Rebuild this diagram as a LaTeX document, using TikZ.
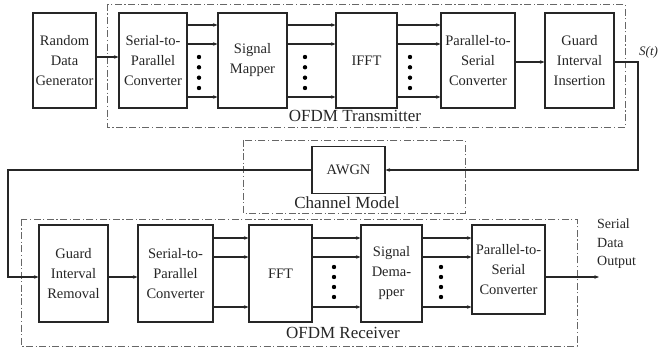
\documentclass[tikz,border=0pt]{standalone}
\usepackage{fontspec}
\setmainfont{Liberation Serif}
\usetikzlibrary{arrows.meta}
\definecolor{ink}{gray}{0.15}
\definecolor{dashc}{gray}{0.40}
\tikzset{
  blk/.style={draw=ink, line width=1.1pt, fill=white, inner sep=0pt, align=center,
    text=ink, font=\fontsize{14.5}{20}\selectfont},
  arr/.style={draw=ink, line width=1.1pt, -{Stealth[length=4.5pt,width=3.5pt]}},
  wire/.style={draw=ink, line width=1.1pt},
  grp/.style={draw=dashc, line width=0.9pt, dash pattern=on 7pt off 2.5pt on 1.2pt off 2.5pt},
  grplabel/.style={text=ink, font=\fontsize{17}{20}\selectfont, inner sep=0pt},
  dotc/.style={fill=black}
}
\begin{document}
\begin{tikzpicture}[x=1pt,y=-1pt]
\useasboundingbox (0,0) rectangle (659,352);
% group frames
\draw[grp] (107,4) rectangle (625,127);
\draw[grp] (243,140) rectangle (465,213);
\draw[grp] (21,219) rectangle (577,346);
\node[grplabel] (ltx) at (355,116) {OFDM Transmitter};
\node[grplabel] (lch) at (347,203) {Channel Model};
\node[grplabel] (lrx) at (343,333) {OFDM Receiver};
% transmitter blocks
\node[blk, minimum width=63pt, minimum height=95pt] (rdg) at (64.5,60.5) {Random\\Data\\Generator};
\node[blk, minimum width=68pt, minimum height=95pt] (s2p) at (153,60.5) {Serial-to-\\Parallel\\Converter};
\node[blk, minimum width=69pt, minimum height=95pt] (map) at (252.5,60.5) {Signal\\Mapper};
\node[blk, minimum width=61pt, minimum height=95pt] (ifft) at (366.5,60.5) {IFFT};
\node[blk, minimum width=74pt, minimum height=95pt] (p2s) at (478,60.5) {Parallel-to-\\Serial\\Converter};
\node[blk, minimum width=69pt, minimum height=95pt] (gii) at (579.5,60.5) {Guard\\Interval\\Insertion};
% channel
\node[blk, minimum width=73pt, minimum height=47pt] (awgn) at (348.5,170) {AWGN};
% receiver blocks
\node[blk, minimum width=69pt, minimum height=97pt] (gir) at (73.5,273.5) {Guard\\Interval\\Removal};
\node[blk, minimum width=75pt, minimum height=97pt] (s2pr) at (175.5,273.5) {Serial-to-\\Parallel\\Converter};
\node[blk, minimum width=63pt, minimum height=97pt] (fft) at (280.5,273.5) {FFT};
\node[blk, minimum width=61pt, minimum height=97pt] (dem) at (391.5,273.5) {Signal\\Dema-\\pper};
\node[blk, minimum width=73pt, minimum height=89pt] (p2sr) at (508.5,269.5) {Parallel-to-\\Serial\\Converter};
% helper coordinates
\coordinate (ta) at (0,25);
\coordinate (tb) at (0,44);
\coordinate (tc) at (0,97);
\coordinate (tm) at (0,57);
\coordinate (tg) at (0,62);
\coordinate (ra) at (0,238);
\coordinate (rb) at (0,257);
\coordinate (rc) at (0,307);
\coordinate (rm) at (0,277);
\coordinate (cr) at (638,170);
\coordinate (cl) at (8,276);
\coordinate (out) at (599,277);
% transmitter connections
\draw[arr] (rdg.east |- tm) -- (s2p.west |- tm);
\foreach \r in {ta,tb,tc}{
  \draw[arr] (s2p.east |- \r) -- (map.west |- \r);
  \draw[arr] (map.east |- \r) -- (ifft.west |- \r);
  \draw[arr] (ifft.east |- \r) -- (p2s.west |- \r);
}
\draw[arr] (p2s.east |- tg) -- (gii.west |- tg);
\foreach \x in {199,305,410}{
  \foreach \y in {57,67.3,77.7,88}{
    \fill[dotc] (\x,\y) circle (2.2pt);
  }
}
% channel connections
\draw[arr] (gii.east |- tg) -| (cr) -- (awgn.east);
\node[text=ink, font=\itshape\fontsize{13}{15}\selectfont, inner sep=0pt, anchor=west] (st) at (639,52) {S(t)};
\draw[arr] (awgn.west) -| (cl) |- (gir.west |- rm);
% receiver connections
\draw[arr] (gir.east |- rm) -- (s2pr.west |- rm);
\foreach \r in {ra,rb,rc}{
  \draw[arr] (s2pr.east |- \r) -- (fft.west |- \r);
  \draw[arr] (fft.east |- \r) -- (dem.west |- \r);
  \draw[arr] (dem.east |- \r) -- (p2sr.west |- \r);
}
\foreach \x in {334,441}{
  \foreach \y in {267,277,287,297}{
    \fill[dotc] (\x,\y) circle (2.2pt);
  }
}
\draw[arr] (p2sr.east |- rm) -- (out);
\node[text=ink, font=\fontsize{14}{18.5}\selectfont, align=left, inner sep=0pt, anchor=north west] (sdo) at (597,219) {Serial\\Data\\Output};
\end{tikzpicture}
\end{document}
